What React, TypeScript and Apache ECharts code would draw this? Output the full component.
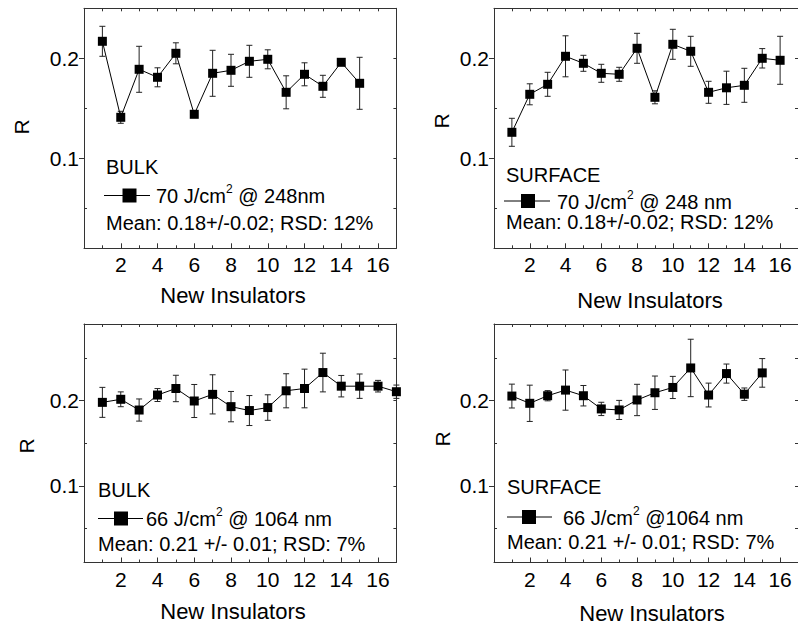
import React, { useEffect, useRef } from "react";
import * as echarts from "echarts";

// ---------- data ----------
const insulators15 = [1, 2, 3, 4, 5, 6, 7, 8, 9, 10, 11, 12, 13, 14, 15];
const insulators16 = [1, 2, 3, 4, 5, 6, 7, 8, 9, 10, 11, 12, 13, 14, 15, 16];
const insulators17 = [1, 2, 3, 4, 5, 6, 7, 8, 9, 10, 11, 12, 13, 14, 15, 16, 17];

const bulk248 = [0.217, 0.141, 0.189, 0.181, 0.205, 0.144, 0.185, 0.188, 0.197, 0.199, 0.166, 0.184, 0.172, 0.196, 0.175];
const bulk248Err = [0.015, 0.006, 0.023, 0.0095, 0.0105, 0.003, 0.023, 0.016, 0.016, 0.0095, 0.0165, 0.0115, 0.011, 0.002, 0.026];

const surface248 = [0.126, 0.164, 0.174, 0.202, 0.195, 0.185, 0.184, 0.21, 0.161, 0.214, 0.207, 0.166, 0.1705, 0.173, 0.2, 0.198];
const surface248Err = [0.014, 0.0105, 0.012, 0.0205, 0.008, 0.009, 0.007, 0.015, 0.0065, 0.015, 0.015, 0.011, 0.0166, 0.017, 0.0097, 0.024];

const bulk1064 = [0.198, 0.2016, 0.189, 0.2066, 0.2143, 0.1996, 0.2074, 0.193, 0.1884, 0.1919, 0.2116, 0.2143, 0.233, 0.217, 0.217, 0.217, 0.2105];
const bulk1064Err = [0.0176, 0.0087, 0.013, 0.0076, 0.0155, 0.0194, 0.023, 0.0178, 0.0176, 0.015, 0.02, 0.0227, 0.0227, 0.0126, 0.0143, 0.0068, 0.0078];

const surface1064 = [0.2054, 0.1969, 0.2058, 0.2124, 0.2058, 0.1903, 0.1891, 0.2008, 0.2093, 0.2155, 0.2384, 0.2066, 0.2318, 0.2076, 0.2326];
const surface1064Err = [0.014, 0.0213, 0.006, 0.0236, 0.012, 0.0078, 0.0112, 0.0184, 0.0196, 0.013, 0.0337, 0.014, 0.0112, 0.0073, 0.0168];

const xTickLabels = [2, 4, 6, 8, 10, 12, 14, 16];
const xMinorTicks = [1, 3, 5, 7, 9, 11, 13, 15];
const xTopTicks = [1, 2, 3, 4, 5, 6, 7, 8, 9, 10, 11, 12, 13, 14, 15, 16];
const yTickLabels = [0.1, 0.2];

const panelTitles = ["BULK", "SURFACE", "BULK", "SURFACE"];
const legendLabels = [
  ["70 J/cm", "2", " @ 248nm"],
  ["70 J/cm", "2", " @ 248 nm"],
  ["66 J/cm", "2", " @ 1064 nm"],
  ["66 J/cm", "2", " @1064 nm"],
];
const meanLabels = [
  "Mean: 0.18+/-0.02; RSD: 12%",
  "Mean: 0.18+/-0.02; RSD: 12%",
  "Mean: 0.21 +/- 0.01; RSD: 7%",
  "Mean: 0.21 +/- 0.01; RSD: 7%",
];
const xAxisTitle = "New Insulators";
const yAxisTitle = "R";

// ---------- layout ----------
const FONT = '"Liberation Sans", Arial, Helvetica, sans-serif';
const FRAME = "#333";

const panels = [
  {
    left: 84, top: 8.3, width: 312.4, height: 240, ymin: 0.01, ymax: 0.25,
    xs: insulators15, ys: bulk248, es: bulk248Err,
    yMinor: [0.05, 0.15], yRight: [0.05, 0.1, 0.15, 0.2],
    rPos: [21, 127], xtPos: [233, 295],
    leg: { tx: 106, ty: 167, lx1: 104, lx2: 150, ly: 195.5, sx: 129.5, tx2: 156, my: 223 },
  },
  {
    left: 494, top: 8.3, width: 312.4, height: 240, ymin: 0.01, ymax: 0.25,
    xs: insulators16, ys: surface248, es: surface248Err,
    yMinor: [0.05, 0.15], yRight: [0.05, 0.1, 0.15, 0.2],
    rPos: [441, 121], xtPos: [650, 300],
    leg: { tx: 506, ty: 175, lx1: 504, lx2: 550, ly: 201, sx: 528, tx2: 557, my: 222 },
  },
  {
    left: 84, top: 324, width: 312.4, height: 238.5, ymin: 0.01, ymax: 0.29,
    xs: insulators17, ys: bulk1064, es: bulk1064Err,
    yMinor: [0.05, 0.15, 0.25], yRight: [0.05, 0.1, 0.15, 0.2, 0.25],
    rPos: [26, 446], xtPos: [233, 611],
    leg: { tx: 98, ty: 490, lx1: 98, lx2: 143, ly: 518.5, sx: 121, tx2: 146, my: 544 },
  },
  {
    left: 494, top: 324, width: 312.4, height: 238.5, ymin: 0.01, ymax: 0.29,
    xs: insulators15, ys: surface1064, es: surface1064Err,
    yMinor: [0.05, 0.15, 0.25], yRight: [0.05, 0.1, 0.15, 0.2, 0.25],
    rPos: [442, 439], xtPos: [652, 613],
    leg: { tx: 507, ty: 487, lx1: 507, lx2: 552, ly: 517, sx: 529, tx2: 563, my: 542 },
  },
];

function buildOption() {
  const grid: any[] = [];
  const xAxis: any[] = [];
  const yAxis: any[] = [];
  const series: any[] = [];
  const graphic: any[] = [];

  panels.forEach((p, i) => {
    grid.push({ left: p.left, top: p.top, width: p.width, height: p.height, containLabel: false });
    const xBase = { type: "value", gridIndex: i, min: 0, max: 17, splitLine: { show: false } };
    xAxis.push({
      ...xBase,
      position: "bottom",
      axisLine: { show: true, onZero: false, lineStyle: { color: FRAME, width: 1 } },
      axisTick: { show: true, inside: true, length: 5, customValues: xTickLabels, lineStyle: { color: FRAME } },
      axisLabel: {
        show: true, customValues: xTickLabels, margin: 6, color: "#000",
        fontSize: 21, fontFamily: FONT,
      },
    });
    xAxis.push({
      ...xBase,
      position: "bottom",
      axisLine: { show: false, onZero: false },
      axisTick: { show: true, inside: true, length: 3, customValues: xMinorTicks, lineStyle: { color: FRAME } },
      axisLabel: { show: false },
    });
    xAxis.push({
      ...xBase,
      position: "top",
      axisLine: { show: true, onZero: false, lineStyle: { color: FRAME, width: 1 } },
      axisTick: { show: true, inside: true, length: 3, customValues: xTopTicks, lineStyle: { color: FRAME } },
      axisLabel: { show: false },
    });

    const yBase = { type: "value", gridIndex: i, min: p.ymin, max: p.ymax, splitLine: { show: false } };
    yAxis.push({
      ...yBase,
      position: "left",
      axisLine: { show: true, onZero: false, lineStyle: { color: FRAME, width: 1 } },
      axisTick: { show: true, inside: false, length: 5, customValues: yTickLabels, lineStyle: { color: FRAME } },
      axisLabel: {
        show: true, customValues: yTickLabels, margin: 5, color: "#000",
        fontSize: 21, fontFamily: FONT,
        formatter: (v: number) => v.toFixed(1),
      },
    });
    yAxis.push({
      ...yBase,
      position: "left",
      axisLine: { show: false, onZero: false },
      axisTick: { show: true, inside: true, length: 3, customValues: p.yMinor, lineStyle: { color: FRAME } },
      axisLabel: { show: false },
    });
    yAxis.push({
      ...yBase,
      position: "right",
      axisLine: { show: true, onZero: false, lineStyle: { color: FRAME, width: 1 } },
      axisTick: { show: true, inside: true, length: 3, customValues: p.yRight, lineStyle: { color: FRAME } },
      axisLabel: { show: false },
    });

    const xi = i * 3;
    const yi = i * 3;

    series.push({
      type: "custom",
      name: panelTitles[i] + " error",
      xAxisIndex: xi,
      yAxisIndex: yi,
      z: 2,
      encode: { x: 0, y: [1, 2] },
      data: p.xs.map((x, k) => [x, p.ys[k] - p.es[k], p.ys[k] + p.es[k]]),
      renderItem: (params: any, api: any) => {
        const x = api.value(0);
        const lo = api.coord([x, api.value(1)]);
        const hi = api.coord([x, api.value(2)]);
        const w = 3;
        const style = { stroke: "#222", lineWidth: 1, fill: null };
        return {
          type: "group",
          children: [
            { type: "line", shape: { x1: hi[0], y1: hi[1], x2: lo[0], y2: lo[1] }, style },
            { type: "line", shape: { x1: hi[0] - w, y1: hi[1], x2: hi[0] + w, y2: hi[1] }, style },
            { type: "line", shape: { x1: lo[0] - w, y1: lo[1], x2: lo[0] + w, y2: lo[1] }, style },
          ],
        };
      },
    });

    series.push({
      type: "line",
      name: panelTitles[i],
      xAxisIndex: xi,
      yAxisIndex: yi,
      z: 3,
      data: p.xs.map((x, k) => [x, p.ys[k]]),
      symbol: "rect",
      symbolSize: 9,
      showSymbol: true,
      showAllSymbol: true,
      itemStyle: { color: "#000" },
      lineStyle: { color: "#000", width: 1 },
    });

    // axis titles
    graphic.push({
      type: "text",
      x: p.rPos[0],
      y: p.rPos[1],
      rotation: Math.PI / 2,
      style: {
        text: yAxisTitle, fill: "#000", fontSize: 21, fontFamily: FONT,
        align: "center", verticalAlign: "middle",
      },
    });
    graphic.push({
      type: "text",
      x: p.xtPos[0],
      y: p.xtPos[1],
      style: {
        text: xAxisTitle, fill: "#000", fontSize: 22, fontFamily: FONT,
        align: "center", verticalAlign: "middle",
      },
    });

    // in-plot legend
    const L = p.leg;
    graphic.push({
      type: "text",
      x: L.tx,
      y: L.ty,
      style: { text: panelTitles[i], fill: "#000", fontSize: 20, fontFamily: FONT, align: "left", verticalAlign: "middle" },
    });
    graphic.push({
      type: "line",
      shape: { x1: L.lx1, y1: L.ly, x2: L.lx2, y2: L.ly },
      style: { stroke: "#000", lineWidth: 1 },
    });
    graphic.push({
      type: "rect",
      shape: { x: L.sx - 7, y: L.ly - 7, width: 14, height: 14 },
      style: { fill: "#000" },
    });
    const lab = legendLabels[i];
    graphic.push({
      type: "text",
      x: L.tx2,
      y: L.ly + 0.5,
      style: {
        text: "{a|" + lab[0] + "}{s|" + lab[1] + "}{a|" + lab[2] + "}",
        align: "left",
        verticalAlign: "middle",
        rich: {
          a: { fontSize: 20, fontFamily: FONT, fill: "#000", lineHeight: 26 },
          s: { fontSize: 12, fontFamily: FONT, fill: "#000", verticalAlign: "top", lineHeight: 14 },
        },
      },
    });
    graphic.push({
      type: "text",
      x: L.tx,
      y: L.my,
      style: { text: meanLabels[i], fill: "#000", fontSize: 20, fontFamily: FONT, align: "left", verticalAlign: "middle" },
    });
  });

  return {
    animation: false,
    backgroundColor: "#fff",
    grid,
    xAxis,
    yAxis,
    series,
    graphic,
  };
}

export default function App() {
  const ref = useRef<HTMLDivElement>(null);
  useEffect(() => {
    if (!ref.current) return;
    const chart = echarts.init(ref.current, null, { renderer: "svg" });
    chart.setOption(buildOption() as any);
    return () => chart.dispose();
  }, []);
  return (
    <div
      ref={ref}
      style={{ position: "fixed", left: 0, top: 0, width: 798, height: 625, background: "#fff" }}
    />
  );
}
